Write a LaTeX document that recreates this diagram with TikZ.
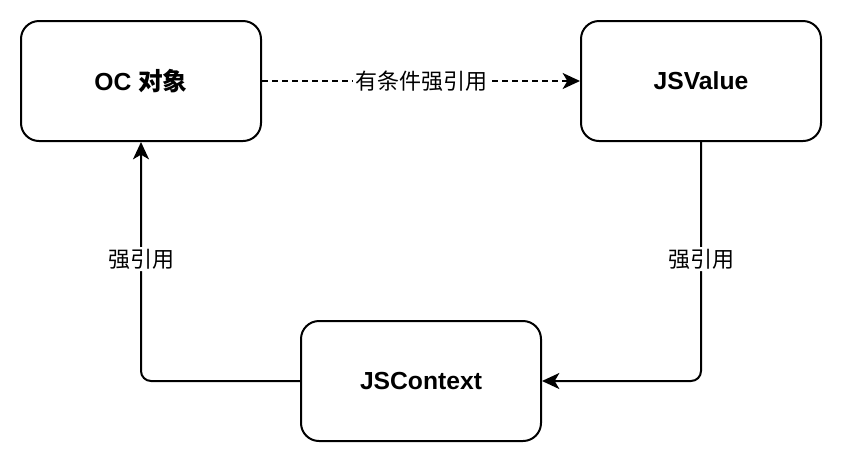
\documentclass[tikz,border=0pt]{standalone}
\usepackage{fontspec}
\setmainfont{Liberation Sans}
\newfontfamily\cjk{Noto Sans CJK SC}
\usetikzlibrary{arrows.meta}
\begin{document}
\begin{tikzpicture}[x=0.75pt,y=-0.75pt,
  box/.style={draw=black,line width=1.5pt,rounded corners=13.5pt,minimum width=180pt,minimum height=90pt,fill=white,inner sep=0pt,font=\fontsize{18.5}{22}\selectfont\bfseries},
  conn/.style={draw=black,line width=1.5pt,rounded corners=7.5pt,-{Stealth[length=13pt,width=12pt,inset=3.5pt]}},
  lbl/.style={fill=white,inner sep=1.5pt,font=\fontsize{16.5}{19}\selectfont\cjk}]
\useasboundingbox (0,0) rectangle (842,462);
\node[box] (oc) at (141,81) {OC {\cjk\bfseries 对象}};
\node[box] (jsv) at (701,81) {JSValue};
\node[box] (jsc) at (421,381) {JSContext};
\draw[conn,dash pattern=on 4.5pt off 3pt,rounded corners=0pt] (oc.east) -- node[lbl]{有条件强引用} (jsv.west);
\draw[conn] (jsc.west) -- (141,381) -- node[lbl,pos=0.51]{强引用} (oc.south);
\draw[conn] (jsv.south) -- node[lbl,pos=0.49]{强引用} (701,381) -- (jsc.east);
\end{tikzpicture}
\end{document}
